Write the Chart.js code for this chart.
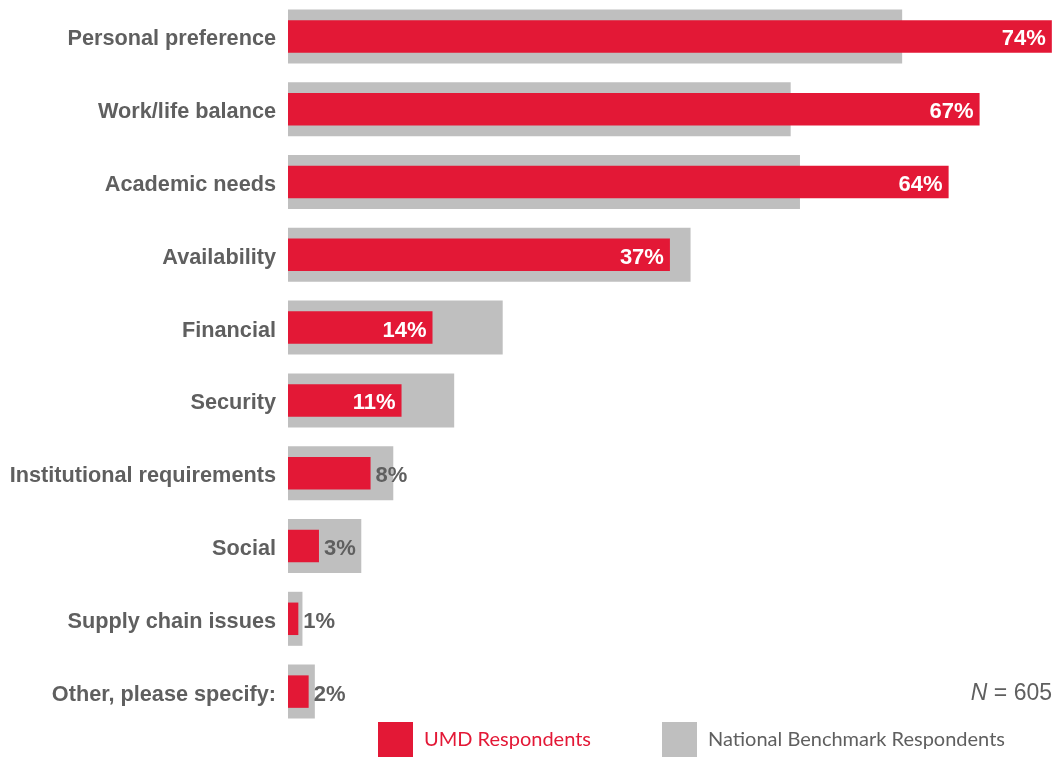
<!DOCTYPE html>
<html>
<head>
<meta charset="utf-8">
<script src="https://cdn.jsdelivr.net/npm/chart.js@4/dist/chart.umd.min.js"></script>
<style>
  html, body { margin: 0; padding: 0; background: #ffffff; }
  #wrap { position: relative; width: 1057px; height: 758px; }
</style>
</head>
<body>
<div id="wrap"><canvas id="c" width="1057" height="758"></canvas></div>
<script>
// Reasons for choosing, share of respondents (%)
const categories = [
  'Personal preference',
  'Work/life balance',
  'Academic needs',
  'Availability',
  'Financial',
  'Security',
  'Institutional requirements',
  'Social',
  'Supply chain issues',
  'Other, please specify:'
];
const umdValues = [74, 67, 64, 37, 14, 11, 8, 3, 1, 2];
const nationalValues = [59.5, 48.7, 49.6, 39.0, 20.8, 16.1, 10.2, 7.1, 1.4, 2.6];
const seriesNames = ['UMD Respondents', 'National Benchmark Respondents'];
const sampleNote = '605';

const RED = '#e31836';
const GRAY = '#bfbfbf';
const TEXT = '#5f5f5f';

// Percent labels at the end of each UMD bar
const valueLabels = {
  id: 'valueLabels',
  afterDatasetsDraw(chart) {
    const ctx = chart.ctx;
    const meta = chart.getDatasetMeta(0);
    ctx.save();
    ctx.font = 'bold 22px "Liberation Sans", Arial, sans-serif';
    ctx.textBaseline = 'middle';
    meta.data.forEach((bar, i) => {
      const v = umdValues[i];
      const txt = v + '%';
      if (v >= 10) {
        ctx.fillStyle = '#ffffff';
        ctx.textAlign = 'right';
        ctx.fillText(txt, bar.x - 6, bar.y + 3);
      } else {
        ctx.fillStyle = TEXT;
        ctx.textAlign = 'left';
        ctx.fillText(txt, bar.x + 5, bar.y + 3);
      }
    });
    ctx.restore();
  }
};

// Legend swatches and the sample size note along the bottom
const footer = {
  id: 'footer',
  afterDraw(chart) {
    const ctx = chart.ctx;
    ctx.save();
    ctx.textBaseline = 'middle';
    ctx.textAlign = 'left';
    ctx.font = '20px Lato, "Open Sans", sans-serif';
    ctx.fillStyle = RED;
    ctx.fillRect(378, 722, 35, 35);
    ctx.fillText(seriesNames[0], 424, 740);
    ctx.fillStyle = GRAY;
    ctx.fillRect(662, 722, 35, 35);
    ctx.fillStyle = TEXT;
    ctx.fillText(seriesNames[1], 708, 740);

    ctx.textAlign = 'right';
    ctx.font = '23px "Liberation Sans", Arial, sans-serif';
    const rest = ' = ' + sampleNote;
    const restW = ctx.measureText(rest).width;
    ctx.fillText(rest, 1052, 694);
    ctx.font = 'italic 23px "Liberation Sans", Arial, sans-serif';
    ctx.fillText('N', 1052 - restW, 694);
    ctx.restore();
  }
};

new Chart(document.getElementById('c'), {
  type: 'bar',
  data: {
    labels: categories,
    datasets: [
      {
        label: seriesNames[0],
        data: umdValues,
        backgroundColor: RED,
        barPercentage: 0.446,
        categoryPercentage: 1,
        grouped: false
      },
      {
        label: seriesNames[1],
        data: nationalValues,
        backgroundColor: GRAY,
        barPercentage: 0.742,
        categoryPercentage: 1,
        grouped: false
      }
    ]
  },
  options: {
    indexAxis: 'y',
    responsive: false,
    animation: false,
    devicePixelRatio: 1,
    layout: { padding: { top: 0, bottom: 30, left: 0, right: 0 } },
    plugins: {
      legend: { display: false },
      tooltip: { enabled: false }
    },
    scales: {
      x: {
        display: false,
        min: 0,
        max: 74.5
      },
      y: {
        grid: { display: false },
        border: { display: false },
        ticks: {
          color: TEXT,
          padding: 4,
          labelOffset: 3,
          font: { family: '"Liberation Sans", Arial, sans-serif', size: 21.7, weight: 'bold' }
        },
        afterFit(scale) {
          scale.width = 288;
          scale.paddingTop = 0;
          scale.paddingBottom = 0;
        }
      }
    }
  },
  plugins: [valueLabels, footer]
});
</script>
</body>
</html>
